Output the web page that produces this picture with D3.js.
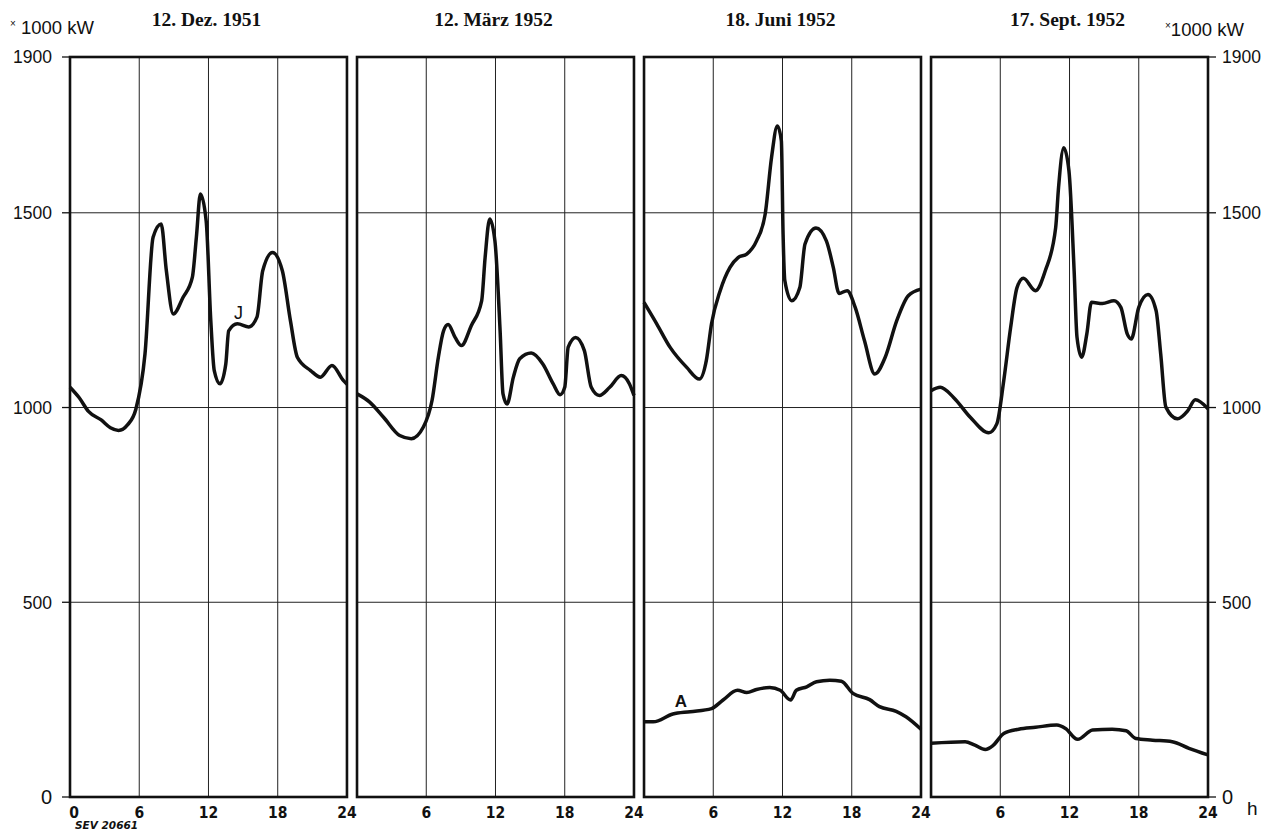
<!DOCTYPE html>
<html>
<head>
<meta charset="utf-8">
<script src="https://cdn.jsdelivr.net/npm/d3@7/dist/d3.min.js"></script>
<style>
  body { margin: 0; background: #fff; }
  svg { display: block; }
  .tick-label { font-family: 'Liberation Sans', 'DejaVu Sans', sans-serif; fill: #111; }
  .hour-label { font-family: 'DejaVu Sans Condensed', 'DejaVu Sans', sans-serif; font-weight: bold; fill: #111; }
  .title { font-family: 'Liberation Serif', 'DejaVu Serif', serif; font-weight: bold; fill: #111; }
</style>
</head>
<body>
<svg id="chart"></svg>
<script>
// Tagesbelastungskurven, 4 Stichtage
const panelTitles = ['12. Dez. 1951', '12. März 1952', '18. Juni 1952', '17. Sept. 1952']
const hourTicks = [0, 6, 12, 18, 24]
const powerTicks = [0, 500, 1000, 1500, 1900]

// Gesamtbelastung J  [Stunde, 1000 kW]
const loadDec = [
  [0, 1052], [0.8, 1025], [1.6, 990], [2.7, 968], [3.5, 948], [4.2, 941], [5, 956], [5.7, 995],
  [6.5, 1138], [7.2, 1437], [7.9, 1471], [8.35, 1351], [8.95, 1240], [9.8, 1283], [10.6, 1334],
  [10.95, 1437], [11.3, 1548], [11.8, 1479], [12.2, 1223], [12.5, 1095], [13.0, 1061], [13.5, 1112],
  [13.75, 1197], [14.5, 1215], [15.5, 1207], [16.2, 1232], [16.7, 1351], [17.55, 1398], [18.4, 1351],
  [19.1, 1223], [19.7, 1129], [20.85, 1095], [21.7, 1078], [22.7, 1108], [23.7, 1069], [24, 1060]
]
const loadMar = [
  [0, 1035], [1.1, 1014], [2.3, 975], [3.7, 928], [4.7, 920], [5.75, 950], [6.5, 1018], [7.05, 1129],
  [7.5, 1197], [7.9, 1213], [8.5, 1180], [9.05, 1159], [9.9, 1210], [10.8, 1274], [11.1, 1385],
  [11.5, 1484], [11.95, 1428], [12.4, 1197], [12.65, 1035], [13.0, 1009], [13.55, 1078], [14.1, 1125],
  [15.1, 1140], [16.1, 1112], [17.0, 1061], [17.6, 1033], [18.0, 1052], [18.3, 1155], [18.95, 1180],
  [19.7, 1146], [20.3, 1052], [21.0, 1031], [21.9, 1052], [22.9, 1082], [23.6, 1061], [24, 1031]
]
const loadJun = [
  [0, 1270], [1.1, 1215], [2.25, 1155], [3.7, 1103], [4.8, 1073], [5.4, 1121], [5.85, 1215], [6.6, 1300],
  [7.45, 1360], [8.15, 1385], [8.9, 1394], [9.75, 1428], [10.5, 1497], [11.05, 1642], [11.55, 1723],
  [11.9, 1685], [12.05, 1445], [12.2, 1326], [12.8, 1274], [13.5, 1308], [13.95, 1420], [14.9, 1461],
  [15.8, 1428], [16.4, 1360], [16.9, 1293], [17.6, 1300], [18.3, 1257], [19.1, 1172], [20.0, 1086],
  [20.9, 1129], [21.9, 1223], [22.9, 1287], [24, 1304]
]
const loadSep = [
  [0, 1043], [0.8, 1052], [1.95, 1026], [3.4, 975], [5.0, 935], [5.7, 958], [6.3, 1069], [6.9, 1206],
  [7.45, 1308], [8.0, 1332], [9.05, 1300], [9.9, 1351], [10.8, 1462], [11.05, 1565], [11.5, 1667],
  [11.95, 1608], [12.4, 1351], [12.65, 1180], [13.05, 1129], [13.5, 1189], [13.9, 1270], [14.85, 1267],
  [15.85, 1274], [16.45, 1257], [17.0, 1189], [17.35, 1176], [18.0, 1257], [18.8, 1290], [19.5, 1249],
  [19.9, 1138], [20.35, 1001], [21.35, 971], [22.25, 992], [22.9, 1020], [24, 997]
]

// Belastung A (nur Sommer / Herbst)
const loadJunA = [
  [0, 193], [0.8, 193], [2.5, 213], [4.0, 219], [5.85, 227], [6.85, 249], [8.1, 274], [8.9, 268],
  [9.75, 276], [10.9, 281], [11.8, 274], [12.7, 249], [13.2, 274], [14.1, 283], [14.95, 296],
  [16.1, 300], [17.1, 297], [18.1, 266], [19.55, 250], [20.4, 232], [21.85, 220], [22.7, 206], [24, 174]
]
const loadSepA = [
  [0, 138], [2.95, 142], [3.8, 133], [4.7, 122], [5.4, 133], [6.3, 163], [7.6, 174], [9.05, 179],
  [10.9, 185], [11.65, 176], [12.7, 148], [14.0, 172], [15.7, 174], [16.9, 170], [17.75, 150],
  [19.2, 146], [20.9, 142], [22.35, 125], [24, 108]
]

const panelCurves = [[loadDec], [loadMar], [loadJun, loadJunA], [loadSep, loadSepA]]

const width = 1261
const height = 832
const margin = { top: 57, bottom: 35, left: 70, right: 53 }

const svg = d3.select('#chart')
  .attr('width', width)
  .attr('height', height)

const y = d3.scaleLinear()
  .domain([0, 1900])
  .range([height - margin.bottom, margin.top])

const panel = d3.scaleBand()
  .domain(panelTitles)
  .range([margin.left, width - margin.right])
  .paddingInner(0.035)

const line = d3.line().curve(d3.curveMonotoneX)

// Achsenbeschriftung links / rechts
const left = margin.left
const right = width - margin.right

svg.append('g')
  .selectAll('line.stub-l')
  .data(powerTicks)
  .enter()
  .append('line')
  .attr('x1', left - 8).attr('x2', left)
  .attr('y1', d => y(d)).attr('y2', d => y(d))
  .attr('stroke', '#111').attr('stroke-width', 1.3)

svg.append('g')
  .selectAll('line.stub-r')
  .data(powerTicks)
  .enter()
  .append('line')
  .attr('x1', right).attr('x2', right + 8)
  .attr('y1', d => y(d)).attr('y2', d => y(d))
  .attr('stroke', '#111').attr('stroke-width', 1.3)

svg.append('g')
  .selectAll('text')
  .data(powerTicks)
  .enter()
  .append('text')
  .attr('class', 'tick-label')
  .attr('x', left - 18)
  .attr('y', d => y(d))
  .attr('dy', '0.36em')
  .attr('text-anchor', 'end')
  .attr('font-size', d => d === 0 ? 20 : 17.5)
  .text(d => d)

svg.append('g')
  .selectAll('text')
  .data(powerTicks)
  .enter()
  .append('text')
  .attr('class', 'tick-label')
  .attr('x', right + 14)
  .attr('y', d => y(d))
  .attr('dy', '0.36em')
  .attr('font-size', d => d === 0 ? 20 : 17.5)
  .text(d => d)

svg.append('text')
  .attr('class', 'tick-label')
  .attr('x', right + 39).attr('y', y(0) + 18)
  .attr('font-size', 19)
  .text('h')

svg.append('text')
  .attr('class', 'tick-label')
  .attr('x', 10).attr('y', 34)
  .attr('font-size', 18.5)
  .html('<tspan font-size="10" dy="-7">×</tspan><tspan dy="7"> 1000 kW</tspan>')

svg.append('text')
  .attr('class', 'tick-label')
  .attr('x', 1165).attr('y', 36)
  .attr('font-size', 18.5)
  .html('<tspan font-size="10" dy="-7">×</tspan><tspan dy="7">1000 kW</tspan>')

svg.append('text')
  .attr('x', 75).attr('y', 829)
  .attr('font-family', 'DejaVu Sans, sans-serif')
  .attr('font-style', 'italic')
  .attr('font-weight', 'bold')
  .attr('font-size', 10.5)
  .attr('fill', '#111')
  .text('SEV 20661')

// Panels
panelTitles.forEach((title, i) => {
  const x0 = panel(title)
  const x = d3.scaleLinear()
    .domain([0, 24])
    .range([x0, x0 + panel.bandwidth()])
  const g = svg.append('g')

  // Gitter
  g.selectAll('line.h')
    .data([500, 1000, 1500])
    .enter()
    .append('line')
    .attr('x1', x0).attr('x2', x0 + panel.bandwidth())
    .attr('y1', d => y(d)).attr('y2', d => y(d))
    .attr('stroke', '#222').attr('stroke-width', 1)

  g.selectAll('line.v')
    .data([6, 12, 18])
    .enter()
    .append('line')
    .attr('x1', d => x(d)).attr('x2', d => x(d))
    .attr('y1', y(0)).attr('y2', y(1900))
    .attr('stroke', '#222').attr('stroke-width', 1)

  // Rahmen
  g.append('rect')
    .attr('x', x0).attr('y', y(1900))
    .attr('width', panel.bandwidth())
    .attr('height', y(0) - y(1900))
    .attr('fill', 'none')
    .attr('stroke', '#111')
    .attr('stroke-width', 2.6)

  // Kurven
  panelCurves[i].forEach(series => {
    g.append('path')
      .attr('d', line(series.map(d => [x(d[0]), y(d[1])])))
      .attr('fill', 'none')
      .attr('stroke', '#111')
      .attr('stroke-width', 3.5)
      .attr('stroke-linejoin', 'round')
  })

  // Stundenbeschriftung
  g.selectAll('text.hour')
    .data(i === 0 ? hourTicks : hourTicks.slice(1))
    .enter()
    .append('text')
    .attr('class', 'hour-label')
    .attr('x', d => d === 0 ? x(d) + 4 : x(d))
    .attr('y', y(0) + 21)
    .attr('text-anchor', 'middle')
    .attr('font-size', 15.5)
    .text(d => d)

  g.append('text')
    .attr('class', 'title')
    .attr('x', x0 + panel.bandwidth() / 2 - 2)
    .attr('y', 26)
    .attr('text-anchor', 'middle')
    .attr('font-size', 19.5)
    .text(title)
})

// Kurvenbezeichnungen
const xDec = d3.scaleLinear().domain([0, 24]).range([panel(panelTitles[0]), panel(panelTitles[0]) + panel.bandwidth()])
const xJun = d3.scaleLinear().domain([0, 24]).range([panel(panelTitles[2]), panel(panelTitles[2]) + panel.bandwidth()])

svg.append('text')
  .attr('class', 'tick-label')
  .attr('x', xDec(14.6)).attr('y', y(1228))
  .attr('text-anchor', 'middle')
  .attr('font-size', 18)
  .text('J')

svg.append('text')
  .attr('class', 'tick-label')
  .attr('x', xJun(3.2)).attr('y', y(232))
  .attr('text-anchor', 'middle')
  .attr('font-size', 17)
  .attr('font-weight', 'bold')
  .text('A')
</script>
</body>
</html>
